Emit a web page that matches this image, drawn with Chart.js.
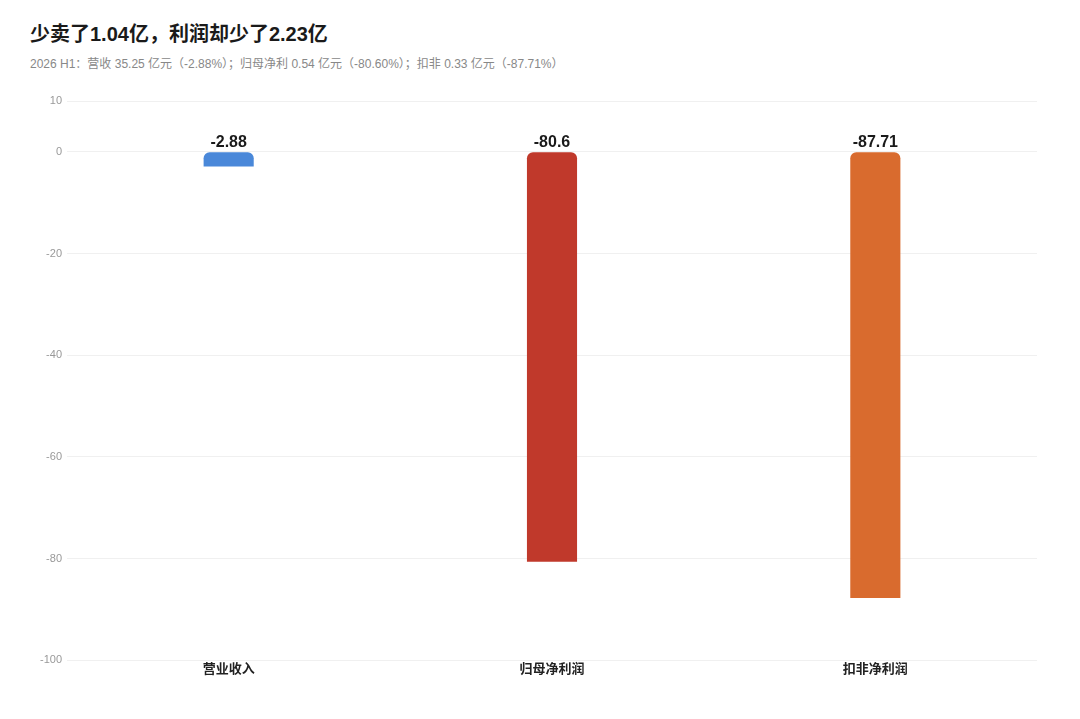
<!DOCTYPE html>
<html>
<head>
<meta charset="utf-8">
<script src="https://cdn.jsdelivr.net/npm/chart.js@4/dist/chart.umd.min.js"></script>
<style>
  html, body { margin: 0; padding: 0; background: #fff; }
  body { width: 1080px; height: 719px; position: relative; overflow: hidden;
         font-family: "Liberation Sans", "Noto Sans CJK SC", sans-serif; }
  #title { position: absolute; left: 30px; top: 18px; font-size: 20px; font-weight: bold; color: #1a1a1a; }
  #subtitle { position: absolute; left: 30px; top: 54px; font-size: 12px; color: #888; }
  #wrap { position: absolute; left: 0; top: 80px; width: 1080px; height: 639px; }
</style>
</head>
<body>
<div id="title">少卖了1.04亿，利润却少了2.23亿</div>
<div id="subtitle">2026 H1：营收 35.25 亿元（-2.88%）；归母净利 0.54 亿元（-80.60%）；扣非 0.33 亿元（-87.71%）</div>
<div id="wrap"><canvas id="mycanvas"></canvas></div>
<script>
var categories = ['营业收入', '归母净利润', '扣非净利润'];
var changes = [-2.88, -80.6, -87.71];
var barColors = ['#4a88d9', '#c0392b', '#d96b2e'];

// value labels sit on the zero line above each bar
var valueLabels = {
    id: 'valueLabels',
    afterDatasetsDraw: function (chart) {
        var ctx = chart.ctx;
        var y0 = chart.scales.y.getPixelForValue(0);
        var meta = chart.getDatasetMeta(0);
        ctx.save();
        ctx.font = 'bold 16px "Liberation Sans", "Noto Sans CJK SC", sans-serif';
        ctx.fillStyle = '#1a1a1a';
        ctx.textAlign = 'center';
        ctx.textBaseline = 'bottom';
        meta.data.forEach(function (bar, i) {
            ctx.fillText(String(changes[i]), bar.x, y0 - 1);
        });
        ctx.restore();
    }
};

var chartdata = {
    labels: categories,
    datasets: [{
        data: changes,
        backgroundColor: barColors,
        borderSkipped: false,
        borderRadius: {topLeft: 6, topRight: 6, bottomLeft: 0, bottomRight: 0},
        barPercentage: 1,
        categoryPercentage: 0.155
    }]
};

var barGraph = new Chart(document.getElementById('mycanvas'), {
    type: 'bar',
    data: chartdata,
    options: {
        responsive: true,
        maintainAspectRatio: false,
        animation: false,
        layout: {padding: {left: 27, right: 43, top: 21, bottom: 43}},
        plugins: {legend: {display: false}, tooltip: {enabled: false}},
        scales: {
            x: {
                grid: {display: false, drawTicks: false},
                border: {display: false},
                ticks: {
                    color: '#222',
                    padding: 0,
                    font: {size: 13, weight: 'bold', family: '"Noto Sans CJK SC", sans-serif'}
                }
            },
            y: {
                min: -100,
                max: 10,
                ticks: {
                    stepSize: 20,
                    color: '#999',
                    padding: 5,
                    font: {size: 11, family: '"Liberation Sans", sans-serif'}
                },
                grid: {color: '#f0f0f0', drawTicks: false},
                border: {display: false},
                afterFit: function (scale) { scale.width = 40; }
            }
        }
    },
    plugins: [valueLabels]
});
</script>
</body>
</html>
